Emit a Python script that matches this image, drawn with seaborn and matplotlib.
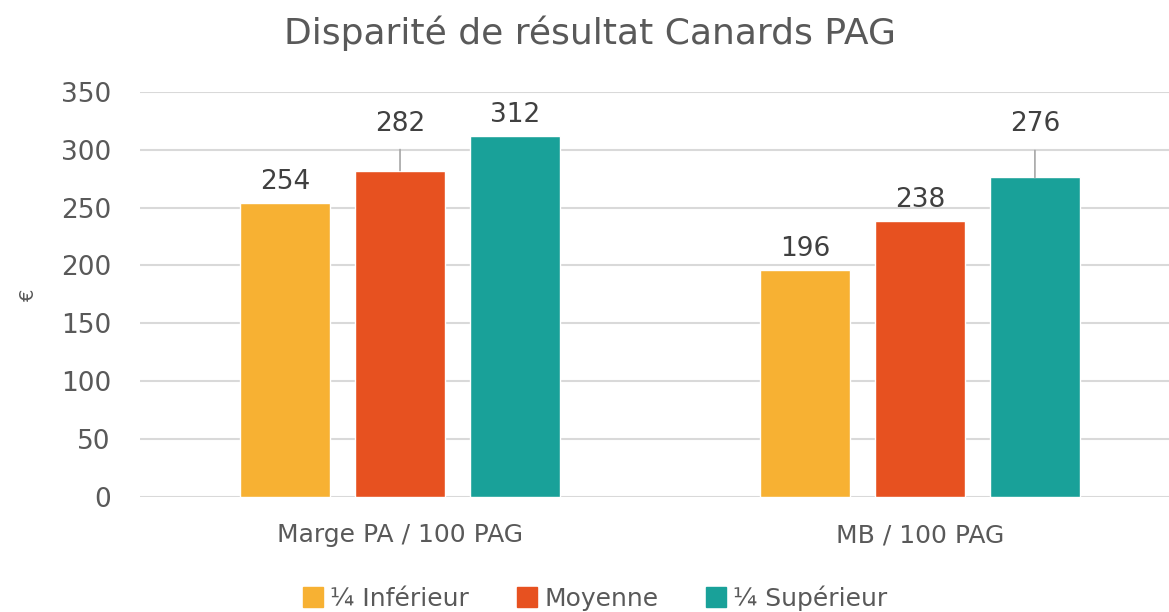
import pandas as pd
import matplotlib
matplotlib.use('Agg')
import matplotlib.pyplot as plt
import seaborn as sns

categories = ['Marge PA / 100 PAG', 'MB / 100 PAG']
groups = ['¼ Inférieur', 'Moyenne', '¼ Supérieur']
inferieur = [254, 196]
moyenne = [282, 238]
superieur = [312, 276]
colors = ['#F7B133', '#E75120', '#19A199']

df = pd.DataFrame({
    'categorie': categories * 3,
    'groupe': [g for g in groups for _ in categories],
    'valeur': inferieur + moyenne + superieur,
})

sns.set_theme(style='white')
plt.rcParams['font.family'] = ['DejaVu Sans']

fig = plt.figure(figsize=(11.69, 6.12), dpi=100)
ax = fig.add_axes([0.1198, 0.188, 0.8896, 0.662])

sns.barplot(data=df, x='categorie', y='valeur', hue='groupe', hue_order=groups,
            palette=colors, width=0.663, gap=0.217, saturation=1,
            legend=False, ax=ax, zorder=3)

ax.set_xlim(-0.5, 1.5)
ax.set_ylim(0, 350)
ax.set_yticks(range(0, 351, 50))
ax.yaxis.grid(True, color='#D9D9D9', lw=1.5, zorder=0)
ax.set_axisbelow(True)
for s in ax.spines.values():
    s.set_visible(False)
ax.tick_params(axis='y', labelsize=19, labelcolor='#595959', length=0, pad=21)
ax.tick_params(axis='x', labelsize=18, labelcolor='#595959', length=0, pad=19)
ax.set_xlabel('')
ax.set_ylabel('€', fontsize=14, color='#595959', labelpad=16)

# décalage des étiquettes (px au-dessus de la barre), avec trait de rappel
offsets = {(1, 0): 34, (2, 1): 40}
for gi, cont in enumerate(ax.containers):
    for ci, bar in enumerate(cont):
        x = bar.get_x() + bar.get_width() / 2
        h = bar.get_height()
        off = offsets.get((gi, ci), 8)
        arrow = None
        if (gi, ci) in offsets:
            arrow = dict(arrowstyle='-', color='#A6A6A6', lw=1.2, shrinkA=7, shrinkB=0)
        ax.annotate(f'{h:.0f}', xy=(x, h), xytext=(0, off * 0.72), textcoords='offset points',
                    ha='center', va='bottom', fontsize=19, color='#404040',
                    arrowprops=arrow)

fig.text(0.505, 0.946, 'Disparité de résultat Canards PAG', ha='center', va='center',
         fontsize=26, color='#595959')

handles = [plt.Rectangle((0, 0), 1, 1, color=c) for c in colors]
fig.legend(handles, groups, loc='center', bbox_to_anchor=(0.509, 0.023), ncol=3,
           frameon=False, fontsize=18, labelcolor='#595959', handlelength=0.8,
           handleheight=0.8, handletextpad=0.3, columnspacing=1.9)

fig.savefig('out.png', dpi=100)
